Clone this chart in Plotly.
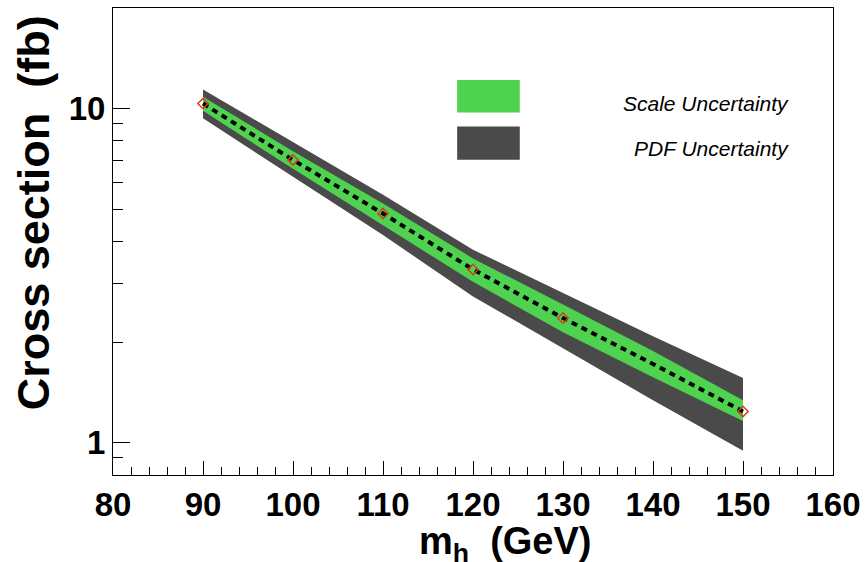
import math
import plotly.graph_objects as go

# ---- data ----
mass = [90, 100, 110, 120, 130, 140, 150]
central = [10.35, 7.02, 4.85, 3.30, 2.36, 1.72, 1.24]
scale_up = [10.85, 7.45, 5.20, 3.56, 2.59, 1.88, 1.34]
scale_dn = [9.85, 6.60, 4.47, 3.03, 2.14, 1.57, 1.16]
pdf_up = [11.4, 7.95, 5.52, 3.78, 2.80, 2.08, 1.56]
pdf_dn = [9.35, 6.25, 4.18, 2.74, 1.92, 1.34, 0.945]
point_mass = [90, 100, 110, 120, 130, 150]
point_xs = [10.35, 7.02, 4.85, 3.30, 2.36, 1.24]

x_ticks = [80, 90, 100, 110, 120, 130, 140, 150, 160]
y_ticks = [1, 10]
y_tick_labels = ["1", "10"]
y_minor = [0.8, 0.9, 2, 3, 4, 5, 6, 7, 8, 9, 20]
y_range = [0.8, 20]

GREEN = "#4fd24f"
DARK = "#4a4a4a"
FONT = "Liberation Sans"

fig = go.Figure()

# PDF band
fig.add_trace(go.Scatter(
    x=mass + mass[::-1], y=pdf_up + pdf_dn[::-1],
    fill="toself", fillcolor=DARK, line=dict(width=0), mode="lines",
    hoverinfo="skip", showlegend=False))
# Scale band
fig.add_trace(go.Scatter(
    x=mass + mass[::-1], y=scale_up + scale_dn[::-1],
    fill="toself", fillcolor=GREEN, line=dict(width=0), mode="lines",
    hoverinfo="skip", showlegend=False))
# central dashed line
fig.add_trace(go.Scatter(
    x=mass, y=central, mode="lines",
    line=dict(color="black", width=4, dash="6px,5px"), showlegend=False))
# points
fig.add_trace(go.Scatter(
    x=point_mass, y=point_xs, mode="markers",
    marker=dict(symbol="diamond-open", size=8, color="#d2401e",
                line=dict(width=1.5, color="#d2401e")),
    showlegend=False))

fig.update_xaxes(
    range=[80, 160], tickvals=x_ticks, ticks="inside", ticklen=14, tickwidth=1,
    tickcolor="black", showline=True, linecolor="black", linewidth=1, mirror=True,
    showgrid=False, zeroline=False,
    tickfont=dict(family=FONT, size=33, color="black", weight="bold"),
    minor=dict(dtick=2, ticks="inside", ticklen=8, tickcolor="black", showgrid=False),
)
fig.update_yaxes(
    type="log", range=[math.log10(y_range[0]), math.log10(y_range[1])],
    tickvals=y_ticks, ticktext=y_tick_labels,
    ticks="inside", ticklen=17, tickcolor="black", showline=True, linecolor="black",
    linewidth=1, mirror=True, showgrid=False, zeroline=False,
    tickfont=dict(family=FONT, size=33, color="black", weight="bold"),
    minor=dict(tickmode="array", tickvals=y_minor, ticks="inside", ticklen=10,
               tickcolor="black", showgrid=False),
)

# legend (drawn)
fig.add_shape(type="rect", xref="paper", yref="paper", x0=0.478, x1=0.565, y0=0.776, y1=0.846,
              fillcolor=GREEN, line=dict(width=0))
fig.add_shape(type="rect", xref="paper", yref="paper", x0=0.478, x1=0.565, y0=0.675, y1=0.746,
              fillcolor=DARK, line=dict(width=0))
fig.add_annotation(xref="paper", yref="paper", x=0.942, y=0.795, xanchor="right", yanchor="middle",
                   text="<i>Scale Uncertainty</i>", showarrow=False,
                   font=dict(family=FONT, size=21, color="black"))
fig.add_annotation(xref="paper", yref="paper", x=0.942, y=0.699, xanchor="right", yanchor="middle",
                   text="<i>PDF Uncertainty</i>", showarrow=False,
                   font=dict(family=FONT, size=21, color="black"))

# axis titles
fig.add_annotation(xref="paper", yref="paper", x=-0.11, y=0.562, textangle=-90,
                   xanchor="center", yanchor="middle",
                   text="<b>Cross section  (fb)</b>", showarrow=False,
                   font=dict(family=FONT, size=45, color="black"))
fig.add_annotation(xref="paper", yref="paper", x=0.545, y=-0.094, xanchor="center", yanchor="top",
                   text="<b>m<sub>h</sub>  (GeV)</b>", showarrow=False, borderpad=0,
                   font=dict(family=FONT, size=38, color="black"))

fig.update_layout(
    width=868, height=562,
    margin=dict(l=113, r=33, t=7, b=87),
    paper_bgcolor="white", plot_bgcolor="white",
    showlegend=False,
)

fig.write_html("out.html")
